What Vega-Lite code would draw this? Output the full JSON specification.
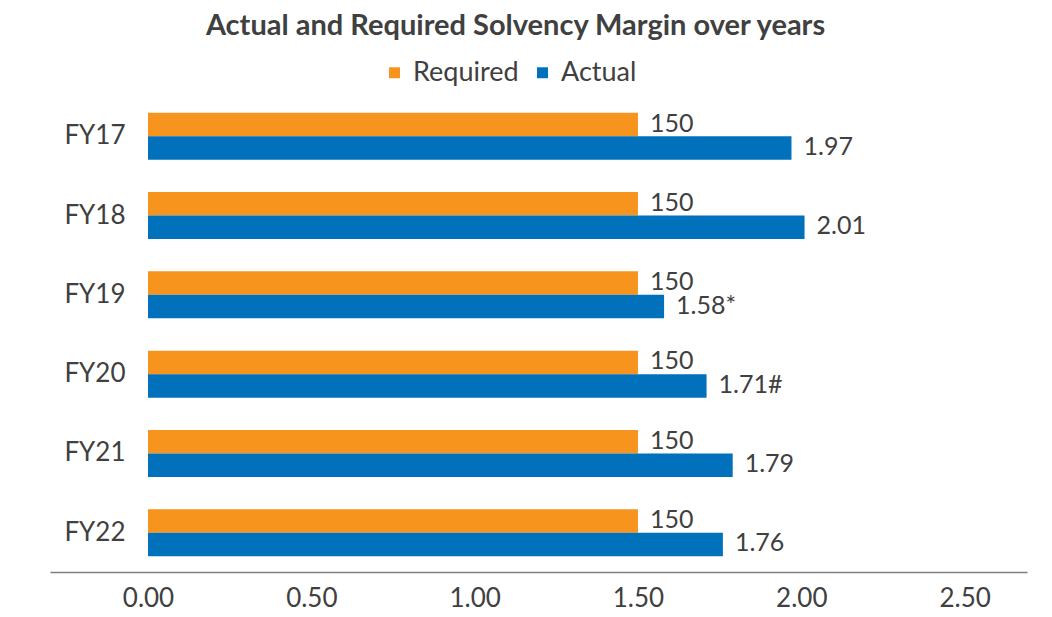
{
  "$schema": "https://vega.github.io/schema/vega-lite/v6.json",
  "autosize": "none",
  "padding": {"left": 50, "top": 97, "right": 25, "bottom": 45},
  "width": 977,
  "height": 475,
  "background": "white",
  "title": {
    "text": "Actual and Required Solvency Margin over years",
    "font": "Lato",
    "fontSize": 29,
    "fontWeight": "bold",
    "color": "#404040",
    "anchor": "middle",
    "dx": -23,
    "offset": 18
  },
  "config": {
    "view": {"stroke": null},
    "font": "Lato"
  },
  "data": {
    "values": [
      {"year": "FY17", "series": "Required", "value": 1.5, "label": "150"},
      {"year": "FY17", "series": "Actual", "value": 1.97, "label": "1.97"},
      {"year": "FY18", "series": "Required", "value": 1.5, "label": "150"},
      {"year": "FY18", "series": "Actual", "value": 2.01, "label": "2.01"},
      {"year": "FY19", "series": "Required", "value": 1.5, "label": "150"},
      {"year": "FY19", "series": "Actual", "value": 1.58, "label": "1.58*"},
      {"year": "FY20", "series": "Required", "value": 1.5, "label": "150"},
      {"year": "FY20", "series": "Actual", "value": 1.71, "label": "1.71#"},
      {"year": "FY21", "series": "Required", "value": 1.5, "label": "150"},
      {"year": "FY21", "series": "Actual", "value": 1.79, "label": "1.79"},
      {"year": "FY22", "series": "Required", "value": 1.5, "label": "150"},
      {"year": "FY22", "series": "Actual", "value": 1.76, "label": "1.76"}
    ]
  },
  "encoding": {
    "y": {
      "field": "year",
      "type": "nominal",
      "sort": ["FY17", "FY18", "FY19", "FY20", "FY21", "FY22"],
      "scale": {"paddingInner": 0.407, "paddingOuter": 0.2},
      "axis": {
        "title": null,
        "domain": false,
        "ticks": false,
        "tickSize": 0,
        "offset": -77,
        "labelPadding": 2,
        "labelFont": "Lato",
        "labelFontSize": 26,
        "labelColor": "#404040"
      }
    },
    "yOffset": {
      "field": "series",
      "type": "nominal",
      "sort": ["Required", "Actual"],
      "scale": {"paddingInner": 0, "paddingOuter": 0}
    },
    "x": {
      "field": "value",
      "type": "quantitative",
      "scale": {"domain": [-0.3, 2.691], "nice": false, "zero": false},
      "axis": {
        "title": null,
        "values": [0, 0.5, 1, 1.5, 2, 2.5],
        "format": ".2f",
        "grid": false,
        "ticks": false,
        "tickSize": 0,
        "labelPadding": 13,
        "labelFont": "Lato",
        "labelFontSize": 26,
        "labelColor": "#404040",
        "domainColor": "#7f7f7f",
        "domainWidth": 1.5
      }
    }
  },
  "layer": [
    {
      "mark": {"type": "bar"},
      "encoding": {
        "x2": {"datum": 0},
        "color": {
          "field": "series",
          "type": "nominal",
          "sort": ["Required", "Actual"],
          "scale": {"domain": ["Required", "Actual"], "range": ["#F7941D", "#0071BA"]},
          "legend": {
            "title": null,
            "orient": "none",
            "direction": "horizontal",
            "legendX": 331,
            "legendY": -38,
            "symbolType": "square",
            "symbolSize": 120,
            "symbolStrokeWidth": 0,
            "labelFont": "Lato",
            "labelFontSize": 27,
            "labelColor": "#404040",
            "labelOffset": 5,
            "columnPadding": 10,
            "labelLimit": 300
          }
        }
      }
    },
    {
      "mark": {
        "type": "text",
        "align": "left",
        "baseline": "middle",
        "dx": 12,
        "dy": -1,
        "font": "Lato",
        "fontSize": 25,
        "color": "#404040"
      },
      "encoding": {
        "text": {"field": "label", "type": "nominal"}
      }
    }
  ]
}
